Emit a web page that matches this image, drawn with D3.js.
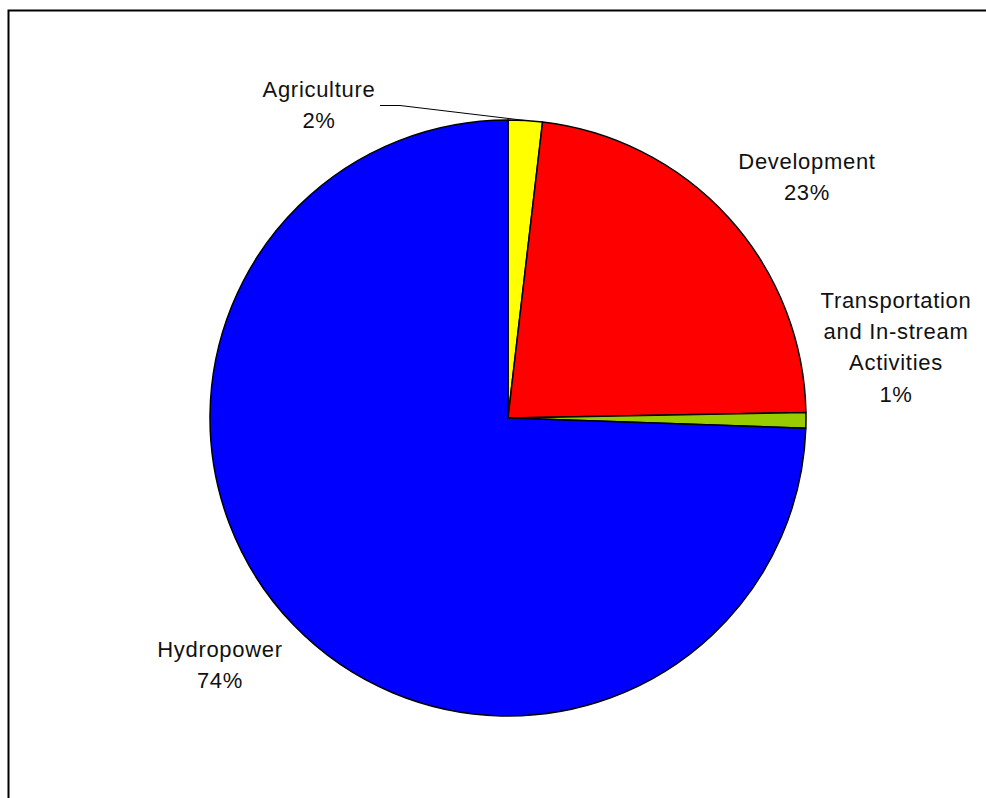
<!DOCTYPE html>
<html>
<head>
<meta charset="utf-8">
<script src="https://cdn.jsdelivr.net/npm/d3@7"></script>
<style>
  html, body { margin: 0; padding: 0; background: #fff; }
  svg { display: block; }
  text { font-family: "Liberation Sans", Arial, sans-serif; font-size: 22px; letter-spacing: 0.7px; fill: #111; }
</style>
</head>
<body>
<div id="chart"></div>
<script>
// Impact sources, share of total (%)
const categories = ["Agriculture", "Development", "Transportation and In-stream Activities", "Hydropower"];
const values = [1.85, 22.85, 0.85, 74.45];
const colors = ["#FFFF00", "#FF0000", "#99CC00", "#0000FF"];
// Label text lines (name wrapped as drawn) and label anchor points
const labelLines = [["Agriculture"], ["Development"], ["Transportation", "and In-stream", "Activities"], ["Hydropower"]];
const labelPos = [[319, 97], [807, 169], [896, 308], [220, 657]];

const W = 986, H = 798;
const cx = 508, cy = 418, R = 298;

const svg = d3.select("#chart").append("svg").attr("width", W).attr("height", H);

// Outer frame (top and left edges within view)
svg.append("path")
  .attr("d", `M8.5,${H + 5} L8.5,10.5 L${W + 5},10.5`)
  .attr("fill", "none").attr("stroke", "#000").attr("stroke-width", 2);

const data = categories.map((c, i) => ({ name: c, value: values[i], color: colors[i], lines: labelLines[i], pos: labelPos[i] }));

const pie = d3.pie().value(d => d.value).sort(null);
const arc = d3.arc().innerRadius(0).outerRadius(R);
const arcs = pie(data);

const g = svg.append("g").attr("transform", `translate(${cx},${cy})`);
g.selectAll("path.slice").data(arcs).join("path")
  .attr("class", "slice")
  .attr("d", arc)
  .attr("fill", d => d.data.color)
  .attr("stroke", "#000")
  .attr("stroke-width", 1.5)
  .attr("stroke-linejoin", "round");

const total = d3.sum(values);
const fmt = v => Math.round(v / total * 100) + "%";

// Labels
data.forEach(d => {
  const t = svg.append("text").attr("text-anchor", "middle");
  const lines = d.lines.concat([fmt(d.value)]);
  lines.forEach((ln, k) => {
    t.append("tspan").attr("x", d.pos[0]).attr("y", d.pos[1] + k * 31.2).text(ln);
  });
});

// Leader line for the small Agriculture slice
const a0 = arcs[0];
const mid = (a0.startAngle + a0.endAngle) / 2;
const ex = cx + R * Math.sin(mid), ey = cy - R * Math.cos(mid);
svg.append("path")
  .attr("d", `M380,105.5 L400,105.5 L${ex},${ey}`)
  .attr("fill", "none").attr("stroke", "#000").attr("stroke-width", 1);
</script>
</body>
</html>
